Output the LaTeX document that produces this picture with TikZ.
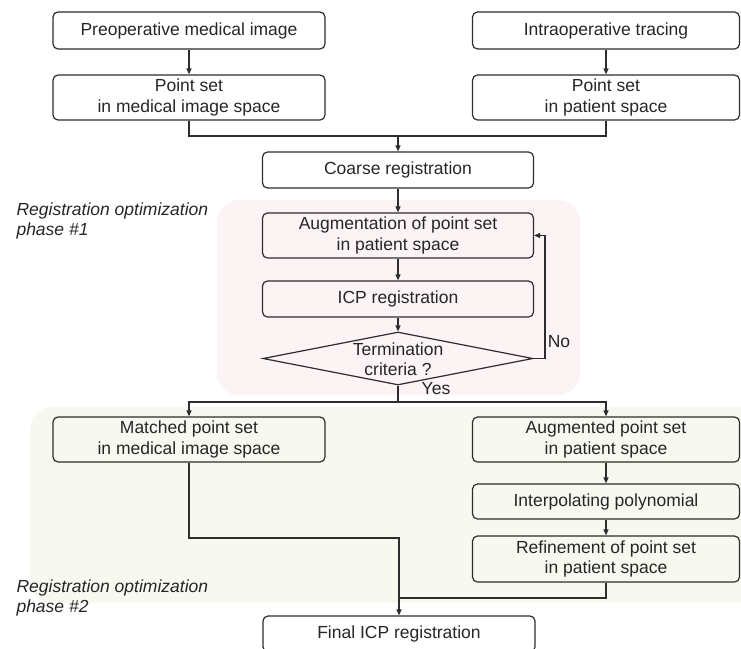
\documentclass[tikz,border=0pt]{standalone}
\usepackage{fontspec}
\setmainfont{Liberation Sans}
\usetikzlibrary{shapes.geometric,arrows.meta}

\definecolor{linegray}{RGB}{45,45,45}
\definecolor{phaseone}{RGB}{251,243,244}
\definecolor{phasetwo}{RGB}{247,248,240}

\begin{document}
\begin{tikzpicture}[x=1pt,y=-1pt,
        box/.style={draw=linegray,line width=1.2pt,rounded corners=5pt,
            align=center,inner sep=0pt,text=black!85,
            font=\fontsize{17.5}{20.5}\selectfont},
        decision/.style={draw=linegray,line width=1.2pt,shape=diamond,
            inner sep=0pt,minimum width=270pt,minimum height=53pt},
        plain/.style={text=black!85,font=\fontsize{17.5}{20.5}\selectfont},
        phase/.style={plain,align=left,anchor=west,
            font=\fontsize{17.5}{20.5}\selectfont\itshape},
        link/.style={draw=linegray,line width=1.2pt},
        arrow/.style={link,-{Triangle[length=6pt,width=5pt]}}]
                \useasboundingbox (0,0) rectangle (741,648);

                % phase backgrounds
                \fill[phaseone,rounded corners=22pt] (217,200) rectangle (580,395);
                \fill[phasetwo,rounded corners=22pt] (30,407) rectangle (760,603);

                \node[phase] (phaseA) at (13,221) {Registration optimization\\phase \#1};
                \node[phase] (phaseB) at (13,598) {Registration optimization\\phase \#2};

                \node[box,minimum width=272pt,minimum height=37pt] (preop) at (189,30.5) {Preoperative medical image};
                \node[box,minimum width=267pt,minimum height=37pt] (intra) at (606,30.5) {Intraoperative tracing};
                \node[box,minimum width=272pt,minimum height=45pt] (psmed) at (189,97.5) {Point set\\in medical image space};
                \node[box,minimum width=267pt,minimum height=45pt] (pspat) at (606,97.5) {Point set\\in patient space};
                \node[box,minimum width=271pt,minimum height=36pt] (coarse) at (398,170) {Coarse registration};
                \node[box,minimum width=271pt,minimum height=45pt] (augm) at (398,235.5) {Augmentation of point set\\in patient space};
                \node[box,minimum width=271pt,minimum height=36pt] (icp) at (398,299) {ICP registration};
                \node[decision] (term) at (398,358.5) {};
                \node[plain,align=center] (termtext) at (398,359) {Termination\\criteria ?};
                \node[box,minimum width=272pt,minimum height=45pt] (matched) at (189,439.5) {Matched point set\\in medical image space};
                \node[box,minimum width=267pt,minimum height=45pt] (augd) at (606,439.5) {Augmented point set\\in patient space};
                \node[box,minimum width=267pt,minimum height=35pt] (interp) at (606,501.5) {Interpolating polynomial};
                \node[box,minimum width=267pt,minimum height=46pt] (refine) at (606,559) {Refinement of point set\\in patient space};
                \node[box,minimum width=272pt,minimum height=36pt] (final) at (399,634) {Final ICP registration};

                \node[plain] (nolabel) at (559,342) {No};
                \node[plain] (yeslabel) at (436,389) {Yes};

                \coordinate (joinA) at (398,136);
                \coordinate (joinB) at (398,402);
                \coordinate (loopR) at (545,358.5);
                \coordinate (joinC) at (399,538);
                \coordinate (joinD) at (399,598);

                \draw[arrow] (preop) -- (psmed);
                \draw[arrow] (intra) -- (pspat);
                \draw[link] (psmed.south) |- (joinA);
                \draw[link] (pspat.south) |- (joinA);
                \draw[arrow] (joinA) -- (coarse.north);
                \draw[arrow] (coarse) -- (augm);
                \draw[arrow] (augm) -- (icp);
                \draw[arrow] (icp) -- (term.north);
                \draw[arrow] (term.east) -- (loopR) |- (augm.east);
                \draw[link] (term.south) -- (joinB);
                \draw[arrow] (joinB) -| (matched.north);
                \draw[arrow] (joinB) -| (augd.north);
                \draw[arrow] (augd) -- (interp);
                \draw[arrow] (interp) -- (refine);
                \draw[link] (matched.south) |- (joinC) -- (joinD);
                \draw[link] (refine.south) |- (joinD);
                \draw[arrow] (joinD) -- (final.north);
            \end{tikzpicture}
\end{document}
